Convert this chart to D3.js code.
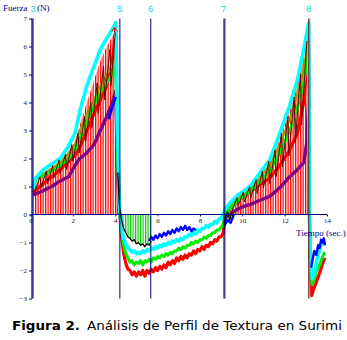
<!DOCTYPE html>
<html>
<head>
<meta charset="utf-8">
<script src="https://cdn.jsdelivr.net/npm/d3@7/dist/d3.min.js"></script>
<style>
    body { margin: 0; background: #fff; }
    #main svg { display: block; }
</style>
</head>
<body>
<div id="main"></div>
<script>
const W = 347;
const H = 340;

// --- data (time in s, force in N) ---
const X_TICKS = [0, 2, 4, 6, 8, 10, 12, 14];
const Y_TICKS = [-3, -2, -1, 0, 1, 2, 3, 4, 5, 6, 7];
const MARKER_TIMES = [0.12, 4.22, 5.68, 9.13, 13.14];
const MARKER_LABELS = ["3", "5", "6", "7", "8"];

const RED_HATCH_1 = [[0.15, 0], [0.15, 1.0], [0.6, 1.4], [1.0, 1.6], [1.4, 1.8], [1.8, 2.2], [2.1, 2.6], [2.33, 3.2],
    [2.66, 4.0], [3.0, 4.8], [3.3, 5.5], [3.6, 6.0], [3.85, 6.35], [4.02, 6.6], [4.12, 6.6], [4.14, 0]];
const RED_HATCH_2 = [[9.2, 0], [9.4, 0.3], [9.8, 0.6], [10.35, 0.9], [10.8, 1.3], [11.3, 1.8], [11.77, 2.7],
    [12.24, 3.7], [12.6, 4.6], [12.9, 5.7], [13.05, 6.3], [13.12, 6.6], [13.13, 0]];
const GREEN_HATCH = [[4.25, -0.1], [4.3, -0.2], [4.4, -0.5], [4.5, -0.65], [4.6, -0.8], [4.7, -0.85], [4.8, -0.95],
    [4.9, -0.9], [5.0, -1.05], [5.1, -1.0], [5.2, -1.1], [5.3, -1.05], [5.4, -1.15], [5.5, -1.05], [5.6, -1.1], [5.68, -0.95]];

const CYAN = [[0.12, 0.9], [0.2, 1.25], [0.3, 1.35], [0.6, 1.6], [1.0, 1.8], [1.4, 2.0], [1.8, 2.45], [2.1, 2.9],
    [2.33, 3.7], [2.66, 4.6], [3.0, 5.3], [3.3, 5.9], [3.6, 6.3], [3.85, 6.6], [4.02, 6.85], [4.1, 3.5], [4.2, 0.3],
    [4.3, -0.5], [4.4, -0.85], [4.5, -1.05], [4.6, -1.2], [4.7, -1.25], [4.8, -1.35], [4.9, -1.3], [5.0, -1.4],
    [5.1, -1.35], [5.2, -1.4], [5.3, -1.3], [5.4, -1.35], [5.5, -1.25], [5.6, -1.3], [5.7, -1.2], [5.8, -1.25],
    [5.9, -1.15], [6.0, -1.2], [6.1, -1.1], [6.2, -1.15], [6.3, -1.05], [6.4, -1.1], [6.5, -1.0], [6.6, -1.05],
    [6.7, -0.95], [6.8, -1.0], [6.9, -0.9], [7.0, -0.95], [7.1, -0.85], [7.2, -0.9], [7.3, -0.8], [7.4, -0.8],
    [7.5, -0.7], [7.6, -0.75], [7.7, -0.65], [7.8, -0.7], [7.9, -0.55], [8.0, -0.6], [8.1, -0.5], [8.2, -0.5],
    [8.3, -0.4], [8.4, -0.45], [8.5, -0.35], [8.6, -0.35], [8.7, -0.25], [8.8, -0.3], [8.9, -0.15], [9.0, -0.15],
    [9.1, 0.0], [9.2, 0.2], [9.4, 0.4], [9.6, 0.55], [9.8, 0.7], [10.1, 0.85], [10.35, 1.0], [10.8, 1.45],
    [11.3, 1.95], [11.77, 2.9], [12.24, 3.9], [12.6, 4.8], [12.9, 5.9], [13.05, 6.5], [13.13, 6.85],
    [13.17, 0.5], [13.22, -1.8], [13.3, -2.3], [13.4, -2.1], [13.5, -1.7], [13.6, -1.4], [13.7, -1.1],
    [13.8, -0.95], [13.9, -1.1]];

const OLIVE = [[0.12, 1.1], [0.3, 1.3], [0.6, 1.45], [1.0, 1.65], [1.4, 1.85], [1.8, 2.2], [2.1, 2.5], [2.33, 3.0],
    [2.66, 3.6], [3.0, 4.1], [3.3, 4.6], [3.6, 5.0], [3.85, 5.3], [4.02, 5.6], [4.1, 2.5], [4.18, 0], [4.2, null],
    [9.13, -0.1], [9.2, 0.1], [9.4, 0.3], [9.6, 0.45], [9.8, 0.6], [10.1, 0.75], [10.35, 0.9], [10.8, 1.3],
    [11.3, 1.75], [11.77, 2.5], [12.24, 3.4], [12.6, 4.3], [12.9, 5.2], [13.05, 5.9], [13.13, 6.2], [13.16, 0]];

const GREEN = [[0.12, 1.0], [0.3, 1.3], [0.6, 1.4], [1.0, 1.55], [1.4, 1.75], [1.8, 2.0], [2.1, 2.3], [2.33, 2.7],
    [2.66, 3.3], [3.0, 3.9], [3.3, 4.35], [3.6, 4.7], [3.85, 5.0], [4.02, 5.3], [4.1, 2.4], [4.2, 0.1],
    [4.3, -0.6], [4.4, -1.1], [4.5, -1.4], [4.6, -1.55], [4.7, -1.7], [4.8, -1.65], [4.9, -1.8], [5.0, -1.7],
    [5.1, -1.75], [5.2, -1.65], [5.3, -1.8], [5.4, -1.65], [5.5, -1.7], [5.6, -1.6], [5.7, -1.7], [5.8, -1.55],
    [5.9, -1.6], [6.0, -1.5], [6.1, -1.55], [6.2, -1.45], [6.3, -1.5], [6.4, -1.4], [6.5, -1.45], [6.6, -1.35],
    [6.7, -1.4], [6.8, -1.3], [6.9, -1.3], [7.0, -1.2], [7.1, -1.25], [7.2, -1.15], [7.3, -1.2], [7.4, -1.1],
    [7.5, -1.1], [7.6, -1.0], [7.7, -1.05], [7.8, -0.95], [7.9, -1.0], [8.0, -0.9], [8.1, -0.9], [8.2, -0.8],
    [8.3, -0.85], [8.4, -0.75], [8.5, -0.75], [8.6, -0.65], [8.7, -0.65], [8.8, -0.55], [8.9, -0.55], [9.0, -0.45],
    [9.1, -0.35], [9.2, 0.0], [9.4, 0.2], [9.6, 0.35], [9.8, 0.5], [10.1, 0.65], [10.35, 0.8], [10.8, 1.15],
    [11.3, 1.55], [11.77, 2.2], [12.24, 3.0], [12.6, 3.8], [12.9, 4.7], [13.05, 5.4], [13.13, 5.8],
    [13.17, 0], [13.2, -1.5], [13.3, -2.5], [13.4, -2.3], [13.5, -2.0], [13.6, -1.9], [13.7, -1.7],
    [13.8, -1.5], [13.9, -1.35]];

const RED = [[0.12, 0.8], [0.3, 0.9], [0.6, 1.1], [1.0, 1.35], [1.4, 1.6], [1.8, 1.9], [2.1, 2.1], [2.33, 2.4],
    [2.66, 3.0], [3.0, 3.6], [3.3, 4.1], [3.6, 4.6], [3.85, 5.4], [4.02, 6.5], [4.1, 3.0], [4.2, 0.2],
    [4.3, -0.8], [4.4, -1.4], [4.5, -1.75], [4.6, -1.95], [4.7, -2.0], [4.8, -2.15], [4.9, -2.05], [5.0, -2.2],
    [5.1, -2.05], [5.2, -2.15], [5.3, -2.0], [5.4, -2.2], [5.5, -2.0], [5.6, -2.1], [5.7, -1.95], [5.8, -2.05],
    [5.9, -1.9], [6.0, -2.0], [6.1, -1.85], [6.2, -1.95], [6.3, -1.8], [6.4, -1.9], [6.5, -1.7], [6.6, -1.8],
    [6.7, -1.65], [6.8, -1.75], [6.9, -1.55], [7.0, -1.65], [7.1, -1.5], [7.2, -1.6], [7.3, -1.45], [7.4, -1.55],
    [7.5, -1.4], [7.6, -1.45], [7.7, -1.3], [7.8, -1.4], [7.9, -1.25], [8.0, -1.3], [8.1, -1.15], [8.2, -1.25],
    [8.3, -1.1], [8.4, -1.15], [8.5, -1.0], [8.6, -1.05], [8.7, -0.9], [8.8, -0.95], [8.9, -0.8], [9.0, -0.8],
    [9.1, -0.65], [9.2, 0.0], [9.4, 0.2], [9.6, 0.35], [9.8, 0.5], [10.1, 0.65], [10.35, 0.8], [10.8, 1.05],
    [11.3, 1.3], [11.77, 1.75], [12.24, 2.3], [12.6, 2.9], [12.9, 4.0], [13.05, 5.3], [13.13, 6.3],
    [13.17, 0], [13.22, -2.0], [13.28, -2.9], [13.35, -2.7], [13.45, -2.5], [13.55, -2.3], [13.65, -2.1],
    [13.75, -1.85], [13.85, -1.65], [13.9, -1.55]];

const PURPLE = [[0.12, 0.7], [0.3, 0.75], [0.6, 0.85], [1.0, 1.0], [1.4, 1.2], [1.8, 1.35], [2.1, 1.75], [2.33, 2.0],
    [2.66, 2.2], [3.0, 2.5], [3.3, 3.0], [3.6, 3.5], [3.85, 3.95], [4.02, 4.4], [4.1, 2.0], [4.18, 0], [4.2, null],
    [9.13, -0.3], [9.2, -0.1], [9.4, 0.0], [9.6, 0.1], [9.8, 0.2], [10.1, 0.3], [10.35, 0.35], [10.8, 0.5],
    [11.3, 0.65], [11.77, 0.95], [12.24, 1.35], [12.6, 1.6], [12.9, 1.85], [13.05, 2.6], [13.13, 4.0], [13.16, 0]];

const BLUE = [[3.7, 3.4], [3.85, 3.8], [4.03, 4.2], [4.1, null],
    [5.6, -0.95], [5.7, -0.8], [5.8, -0.9], [5.9, -0.75], [6.0, -0.85], [6.1, -0.7], [6.2, -0.8], [6.3, -0.65],
    [6.4, -0.75], [6.5, -0.6], [6.6, -0.7], [6.7, -0.55], [6.8, -0.65], [6.9, -0.5], [7.0, -0.6], [7.1, -0.45],
    [7.2, -0.55], [7.3, -0.4], [7.4, -0.55], [7.5, -0.45], [7.6, -0.6], [7.7, -0.5], [7.8, -0.55], [7.85, null],
    [9.15, -0.4], [9.3, -0.2], [9.45, -0.3], [9.6, 0.0], [9.65, null],
    [13.25, -1.9], [13.32, -1.6], [13.4, -1.3], [13.5, -1.45], [13.58, -1.1], [13.65, -1.2], [13.72, -0.9],
    [13.8, -1.0], [13.85, -0.85], [13.9, -1.1]];

const MAROON = [[0.2, 0.8], [0.45, 1.35], [0.5, 0.95], [0.75, 1.55], [0.8, 1.1], [1.05, 1.75], [1.1, 1.3],
    [1.35, 1.95], [1.4, 1.45], [1.65, 2.15], [1.7, 1.6], [1.95, 2.5], [2.0, 1.9], [2.25, 2.9], [2.3, 2.2],
    [2.55, 3.5], [2.6, 2.6], [2.85, 4.0], [2.9, 3.1], [3.15, 4.7], [3.2, 3.6], [3.45, 5.3], [3.5, 4.1],
    [3.75, 5.9], [3.8, 4.6], [4.0, 6.5], [4.05, null],
    [9.5, 0.1], [9.75, 0.6], [9.8, 0.3], [10.05, 0.8], [10.1, 0.45], [10.35, 1.0], [10.4, 0.6], [10.65, 1.25],
    [10.7, 0.75], [10.95, 1.55], [11.0, 0.95], [11.25, 1.9], [11.3, 1.1], [11.55, 2.3], [11.6, 1.35],
    [11.85, 2.9], [11.9, 1.7], [12.15, 3.5], [12.2, 2.1], [12.45, 4.2], [12.5, 2.6], [12.75, 5.0], [12.8, 3.2],
    [13.05, 6.2]];

const BLACK = [[4.12, 1.5], [4.2, 0.3], [4.3, -0.2], [4.4, -0.5], [4.5, -0.65], [4.6, -0.8], [4.7, -0.85],
    [4.8, -0.95], [4.9, -0.9], [5.0, -1.05], [5.1, -1.0], [5.2, -1.1], [5.3, -1.05], [5.4, -1.15], [5.5, -1.05],
    [5.6, -1.1], [5.7, -0.95], [5.75, null],
    [9.15, -0.3], [9.3, 0.1], [9.4, -0.2], [9.5, 0.05], [9.6, -0.1]];

// drawing styles, by series
const STYLES = [
    { data: RED, color: "#ff0000", width: 3.2 },
    { data: PURPLE, color: "#800080", width: 3.4 },
    { data: OLIVE, color: "#999900", width: 2.2 },
    { data: GREEN, color: "#00ee00", width: 3 },
    { data: CYAN, color: "#00ffff", width: 3.6 },
    { data: BLUE, color: "#0000ff", width: 2.4 },
    { data: MAROON, color: "#700000", width: 1 },
    { data: BLACK, color: "#000000", width: 1.3 },
];

var ctx = {
    x: d3.scaleLinear().domain([0, 14]).range([30.5, 327]),
    y: d3.scaleLinear().domain([-3, 7]).range([298.5, 18.5]),
    axisColor: "#000080",
    serif: "'Liberation Serif', 'Times New Roman', serif",
};

var makeDefs = function (svgEl) {
    let defs = svgEl.append("defs");
    let red = defs.append("pattern")
        .attr("id", "redHatch")
        .attr("patternUnits", "userSpaceOnUse")
        .attr("width", 2.5)
        .attr("height", 10);
    red.append("rect").attr("width", 2.5).attr("height", 10).attr("fill", "#fff");
    red.append("rect").attr("width", 1.3).attr("height", 10).attr("fill", "#ff0000");
    let green = defs.append("pattern")
        .attr("id", "greenHatch")
        .attr("patternUnits", "userSpaceOnUse")
        .attr("width", 2.5)
        .attr("height", 10);
    green.append("rect").attr("width", 2.5).attr("height", 10).attr("fill", "#fff");
    green.append("rect").attr("width", 1.2).attr("height", 10).attr("fill", "#00cc00");
};

var drawHatches = function (g) {
    let area = d3.area()
        .x(d => ctx.x(d[0]))
        .y0(ctx.y(0))
        .y1(d => ctx.y(d[1]));
    g.append("path").attr("d", area(RED_HATCH_1)).attr("fill", "url(#redHatch)");
    g.append("path").attr("d", area(RED_HATCH_2)).attr("fill", "url(#redHatch)");
    g.append("path").attr("d", area(GREEN_HATCH)).attr("fill", "url(#greenHatch)");
};

var drawCurves = function (g) {
    let line = d3.line()
        .defined(d => d[1] !== null)
        .x(d => ctx.x(d[0]))
        .y(d => ctx.y(d[1]));
    g.selectAll("path.curve")
        .data(STYLES)
        .enter()
        .append("path")
        .attr("class", "curve")
        .attr("d", d => line(d.data))
        .attr("fill", "none")
        .attr("stroke", d => d.color)
        .attr("stroke-width", d => d.width)
        .attr("stroke-linejoin", "round");
    // red arrow on top of the first peak
    let peak = RED.slice(0, 20).reduce((a, b) => (b[1] > a[1] ? b : a));
    let px = ctx.x(peak[0]) - 1, py = ctx.y(peak[1]) - 5;
    g.append("path")
        .attr("d", `M${px - 3},${py + 4}L${px},${py}L${px + 3},${py + 4}M${px},${py}V${py + 6}`)
        .attr("fill", "none")
        .attr("stroke", "#ff0000")
        .attr("stroke-width", 1);
};

var drawMarkers = function (g) {
    let lineColors = ["#000080", "#000080", "#000080", "#800000", "#800000"];
    g.selectAll("line.marker")
        .data(MARKER_TIMES)
        .enter()
        .append("line")
        .attr("class", "marker")
        .attr("x1", d => ctx.x(d)).attr("x2", d => ctx.x(d))
        .attr("y1", ctx.y(7)).attr("y2", ctx.y(-3))
        .attr("stroke", (d, i) => lineColors[i])
        .attr("stroke-width", 1);
    // second strokes on the last two markers
    g.append("line")
        .attr("x1", ctx.x(MARKER_TIMES[3]) + 1).attr("x2", ctx.x(MARKER_TIMES[3]) + 1)
        .attr("y1", ctx.y(7)).attr("y2", ctx.y(-3))
        .attr("stroke", "#000080").attr("stroke-width", 1);
    g.append("line")
        .attr("x1", ctx.x(MARKER_TIMES[4]) + 1).attr("x2", ctx.x(MARKER_TIMES[4]) + 1)
        .attr("y1", ctx.y(7)).attr("y2", ctx.y(-3))
        .attr("stroke", "#20b0a0").attr("stroke-width", 0.8);
    g.selectAll("text.marker")
        .data(MARKER_LABELS)
        .enter()
        .append("text")
        .attr("class", "marker")
        .attr("x", (d, i) => ctx.x(MARKER_TIMES[i]))
        .attr("y", 12)
        .attr("text-anchor", "middle")
        .attr("font-family", "'Liberation Sans', Arial, sans-serif")
        .attr("font-size", 9)
        .attr("fill", "#00dddd")
        .text(d => d);
};

var drawAxes = function (svgEl) {
    let yAxis = d3.axisLeft(ctx.y).tickValues(Y_TICKS).tickSize(3).tickSizeOuter(0).tickPadding(2);
    let xAxis = d3.axisBottom(ctx.x).tickValues(X_TICKS).tickSize(2).tickSizeOuter(0).tickPadding(2);
    let yg = svgEl.append("g").attr("transform", "translate(32,0)").call(yAxis);
    let xg = svgEl.append("g").attr("transform", `translate(0,${ctx.y(0)})`).call(xAxis);
    [yg, xg].forEach(function (g) {
        g.select(".domain").attr("stroke", ctx.axisColor).attr("stroke-width", 1.2);
        g.selectAll(".tick line").attr("stroke", ctx.axisColor);
        g.selectAll(".tick text")
            .attr("font-family", ctx.serif)
            .attr("font-size", 7)
            .attr("fill", "#101030");
    });
    yg.select(".domain").attr("d", `M0,${ctx.y(7)}V${ctx.y(-3)}`);
    xg.select(".domain").attr("d", `M32,0H${ctx.x(14)}`);

    // y title, split around the first marker label
    svgEl.append("text")
        .attr("x", 3).attr("y", 11)
        .attr("font-family", ctx.serif)
        .attr("font-size", 9)
        .attr("fill", "#000080")
        .text("Fuerza");
    svgEl.append("text")
        .attr("x", 37).attr("y", 11)
        .attr("font-family", ctx.serif)
        .attr("font-size", 9)
        .attr("fill", "#000080")
        .text("(N)");
    svgEl.append("text")
        .attr("x", 296).attr("y", 236)
        .attr("font-family", ctx.serif)
        .attr("font-size", 9)
        .attr("fill", "#000080")
        .text("Tiempo (sec.)");
};

var drawCaption = function (svgEl) {
    svgEl.append("text")
        .attr("x", 12).attr("y", 330)
        .attr("font-family", "'DejaVu Sans', Verdana, sans-serif")
        .attr("font-size", 11.5)
        .attr("font-weight", "bold")
        .attr("textLength", 68)
        .attr("lengthAdjust", "spacingAndGlyphs")
        .attr("fill", "#000")
        .text("Figura 2.");
    svgEl.append("text")
        .attr("x", 87).attr("y", 330)
        .attr("font-family", "'DejaVu Sans', Verdana, sans-serif")
        .attr("font-size", 11.5)
        .attr("textLength", 255)
        .attr("lengthAdjust", "spacingAndGlyphs")
        .attr("fill", "#000")
        .text("Análisis de Perfil de Textura en Surimi");
};

var createViz = function () {
    var svgEl = d3.select("#main").append("svg")
        .attr("width", W)
        .attr("height", H);
    makeDefs(svgEl);
    let plot = svgEl.append("g").attr("id", "plot");
    drawHatches(plot);
    drawCurves(plot);
    drawMarkers(plot);
    drawAxes(svgEl);
    drawCaption(svgEl);
};

createViz();
</script>
</body>
</html>
